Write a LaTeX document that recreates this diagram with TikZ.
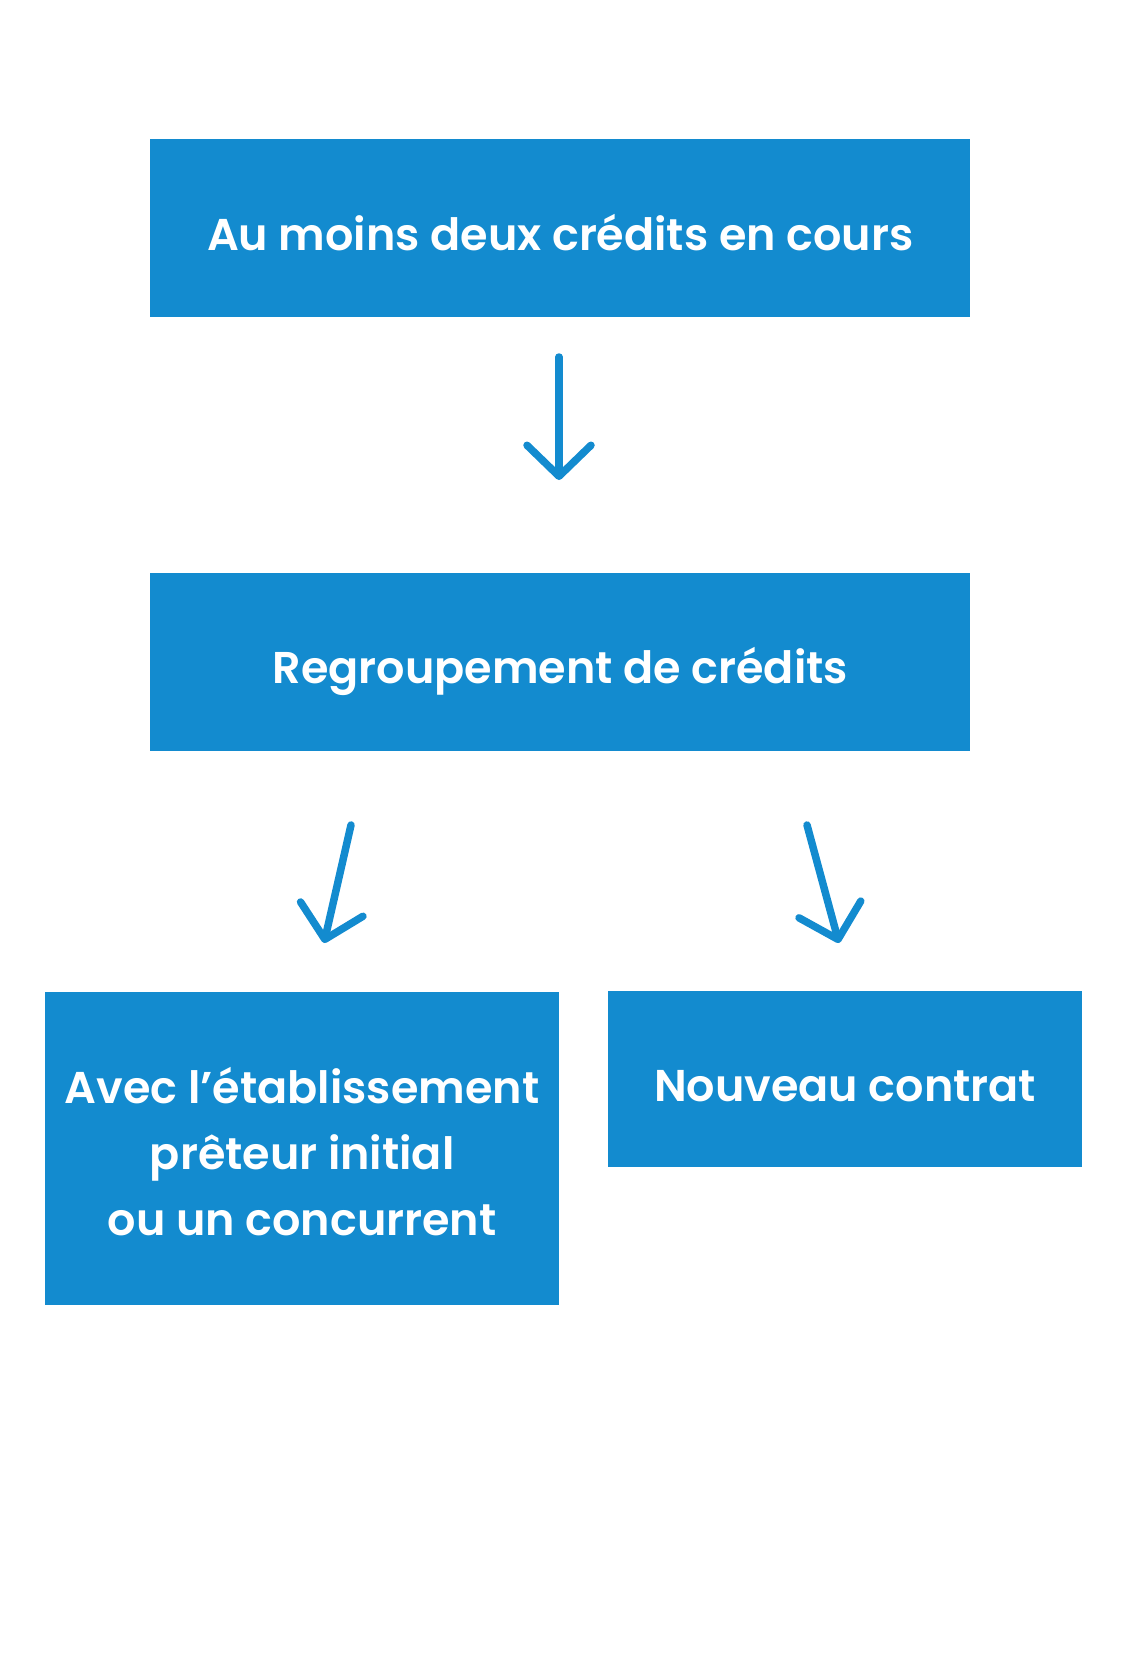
\documentclass[tikz,border=0pt]{standalone}
\usepackage{fontspec}
\setmainfont{Poppins}[BoldFont={* SemiBold}]
\usetikzlibrary{arrows.meta}
\definecolor{boxblue}{RGB}{19,139,207}
\newcommand{\boxtext}[2]{\raisebox{-#1pt}[\height][\depth]{\begin{tabular}{@{}c@{}}#2\end{tabular}}}
\tikzset{
  bluebox/.style={fill=boxblue, draw=none, text=white, font=\fontsize{44.5}{66}\selectfont\bfseries, inner sep=0pt, anchor=north west},
  flowarrow/.style={draw=boxblue, line width=7.5pt, line cap=round, -{Straight Barb[length=31pt,width=64pt,line cap=round,line join=round]}}
}
\begin{document}
\begin{tikzpicture}[x=1pt,y=-1pt]
\useasboundingbox (0,0) rectangle (1120,1680);
\node[bluebox, minimum width=820pt, minimum height=178pt] (b1) at (150,139) {\boxtext{9}{Au moins deux crédits en cours}};
\node[bluebox, minimum width=820pt, minimum height=178pt] (b2) at (150,573) {\boxtext{8}{Regroupement de crédits}};
\node[bluebox, minimum width=514pt, minimum height=313pt] (b3) at (45,992) {\boxtext{8}{Avec l’établissement\\prêteur initial\\ou un concurrent}};
\node[bluebox, minimum width=474pt, minimum height=176pt] (b4) at (608,991) {\boxtext{9}{Nouveau contrat}};
\coordinate (a1s) at (559,357);
\coordinate (a1e) at (559,480);
\coordinate (a2s) at (351,825);
\coordinate (a2e) at (324,943);
\coordinate (a3s) at (807,825);
\coordinate (a3e) at (839,943);
\draw[flowarrow] (a1s) -- (a1e);
\draw[flowarrow] (a2s) -- (a2e);
\draw[flowarrow] (a3s) -- (a3e);
\end{tikzpicture}
\end{document}
